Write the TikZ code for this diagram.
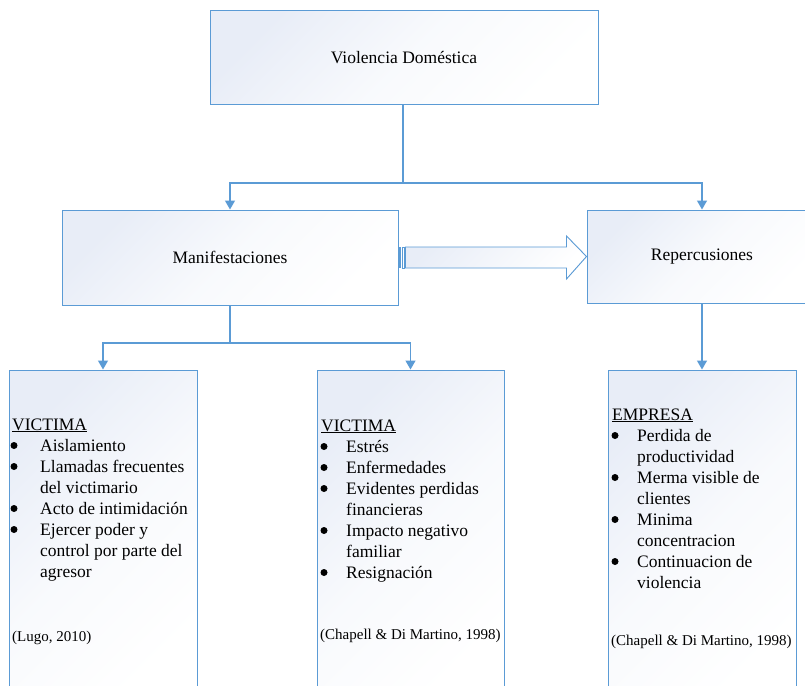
\documentclass[tikz,border=0pt]{standalone}
\usepackage{fontspec}
\setmainfont{Liberation Serif}
\usetikzlibrary{arrows.meta,calc}
\definecolor{bl}{RGB}{91,155,213}
\definecolor{shd}{RGB}{232,237,247}
\tikzset{
  box/.style={draw=bl, line width=1pt, rectangle, inner sep=0pt, shade, top color=shd, bottom color=white, middle color=white!70!shd, shading angle=45, font=\fontsize{17.5}{21}\selectfont},
  conn/.style={draw=bl, line width=1.3pt},
  arr/.style={conn, -{Triangle[width=10pt,length=9pt]}},
  tx/.style={anchor=base west, inner sep=0pt, font=\fontsize{17.5}{21}\selectfont},
  ct/.style={anchor=base west, inner sep=0pt, font=\fontsize{15}{18}\selectfont},
  bu/.style={circle, fill=black, inner sep=0pt, minimum size=7pt}
}
\begin{document}
\begin{tikzpicture}[x=1pt,y=-1pt]
\useasboundingbox (0,0) rectangle (805,685);
\clip (0,0) rectangle (805,685);
\fill[white] (0,0) rectangle (805,685);
% main boxes
\node[box, minimum width=388pt, minimum height=93pt] (vd) at (404,57.5) {Violencia Doméstica};
\node[box, minimum width=336pt, minimum height=95pt] (man) at (230,257.5) {Manifestaciones};
\node[box, minimum width=230pt, minimum height=93pt] (rep) at (702,256.5) {Repercusiones};
% bottom boxes
\node[box, minimum width=188pt, minimum height=330pt] (b1) at (103,535) {};
\node[box, minimum width=187pt, minimum height=330pt] (b2) at (410.5,535) {};
\node[box, minimum width=188pt, minimum height=330pt] (b3) at (702,535) {};
% connectors
\coordinate (j1) at (403,183);
\draw[conn] (vd.south -| j1) -- (j1);
\draw[arr] (j1) -| (man.north);
\draw[arr] (j1) -| (rep.north);
\coordinate (j2) at (230,343);
\draw[conn] (man.south) -- (j2);
\draw[arr] (j2) -| (b1.north);
\draw[arr] (j2) -| (b2.north);
\draw[arr] (rep.south) -- (b3.north);
% block arrow
\coordinate (ba) at ($(man.east)+(7,-10.5)$);
\draw[draw=bl, line width=0.9pt, shade, top color=shd, bottom color=white, shading angle=45]
  (ba) -- ++(161,0) -- ++(0,-11) -- (rep.west) -- ($(ba)+(161,32)$) -- ++(0,-11) -- ($(ba)+(0,21)$) -- cycle;
\fill[bl] ($(man.east)+(-1,-10.5)$) rectangle ($(man.east)+(2,10.5)$);
\draw[bl, line width=0.8pt] ($(man.east)+(3.5,-10.5)$) rectangle ($(man.east)+(6,10.5)$);
% left box text
\node[tx] (l0) at (12,430) {\underline{VICTIMA}};
\foreach \y in {451,472,514,535} \node[bu] at (14,\y-5.5) {};
\node[tx] (l1) at (40,451) {Aislamiento};
\node[tx] (l2) at (40,472) {Llamadas frecuentes};
\node[tx] (l3) at (40,493) {del victimario};
\node[tx] (l4) at (40,514) {Acto de intimidación};
\node[tx] (l5) at (40,535) {Ejercer poder y};
\node[tx] (l6) at (40,556) {control por parte del};
\node[tx] (l7) at (40,577) {agresor};
\node[ct] (lc) at (12,641) {(Lugo, 2010)};
% middle box text
\node[tx] (m0) at (321,431) {\underline{VICTIMA}};
\foreach \y in {452,473,494,536,578} \node[bu] at (324,\y-5.5) {};
\node[tx] (m1) at (346,452) {Estrés};
\node[tx] (m2) at (346,473) {Enfermedades};
\node[tx] (m3) at (346,494) {Evidentes perdidas};
\node[tx] (m4) at (346,515) {financieras};
\node[tx] (m5) at (346,536) {Impacto negativo};
\node[tx] (m6) at (346,557) {familiar};
\node[tx] (m7) at (346,578) {Resignación};
\node[ct] (mc) at (320,639) {(Chapell \& Di Martino, 1998)};
% right box text
\node[tx] (r0) at (612,420) {\underline{EMPRESA}};
\foreach \y in {441,483,525,567} \node[bu] at (615,\y-5.5) {};
\node[tx] (r1) at (637,441) {Perdida de};
\node[tx] (r2) at (637,462) {productividad};
\node[tx] (r3) at (637,483) {Merma visible de};
\node[tx] (r4) at (637,504) {clientes};
\node[tx] (r5) at (637,525) {Minima};
\node[tx] (r6) at (637,546) {concentracion};
\node[tx] (r7) at (637,567) {Continuacion de};
\node[tx] (r8) at (637,588) {violencia};
\node[ct] (rc) at (611,645) {(Chapell \& Di Martino, 1998)};
\end{tikzpicture}
\end{document}
